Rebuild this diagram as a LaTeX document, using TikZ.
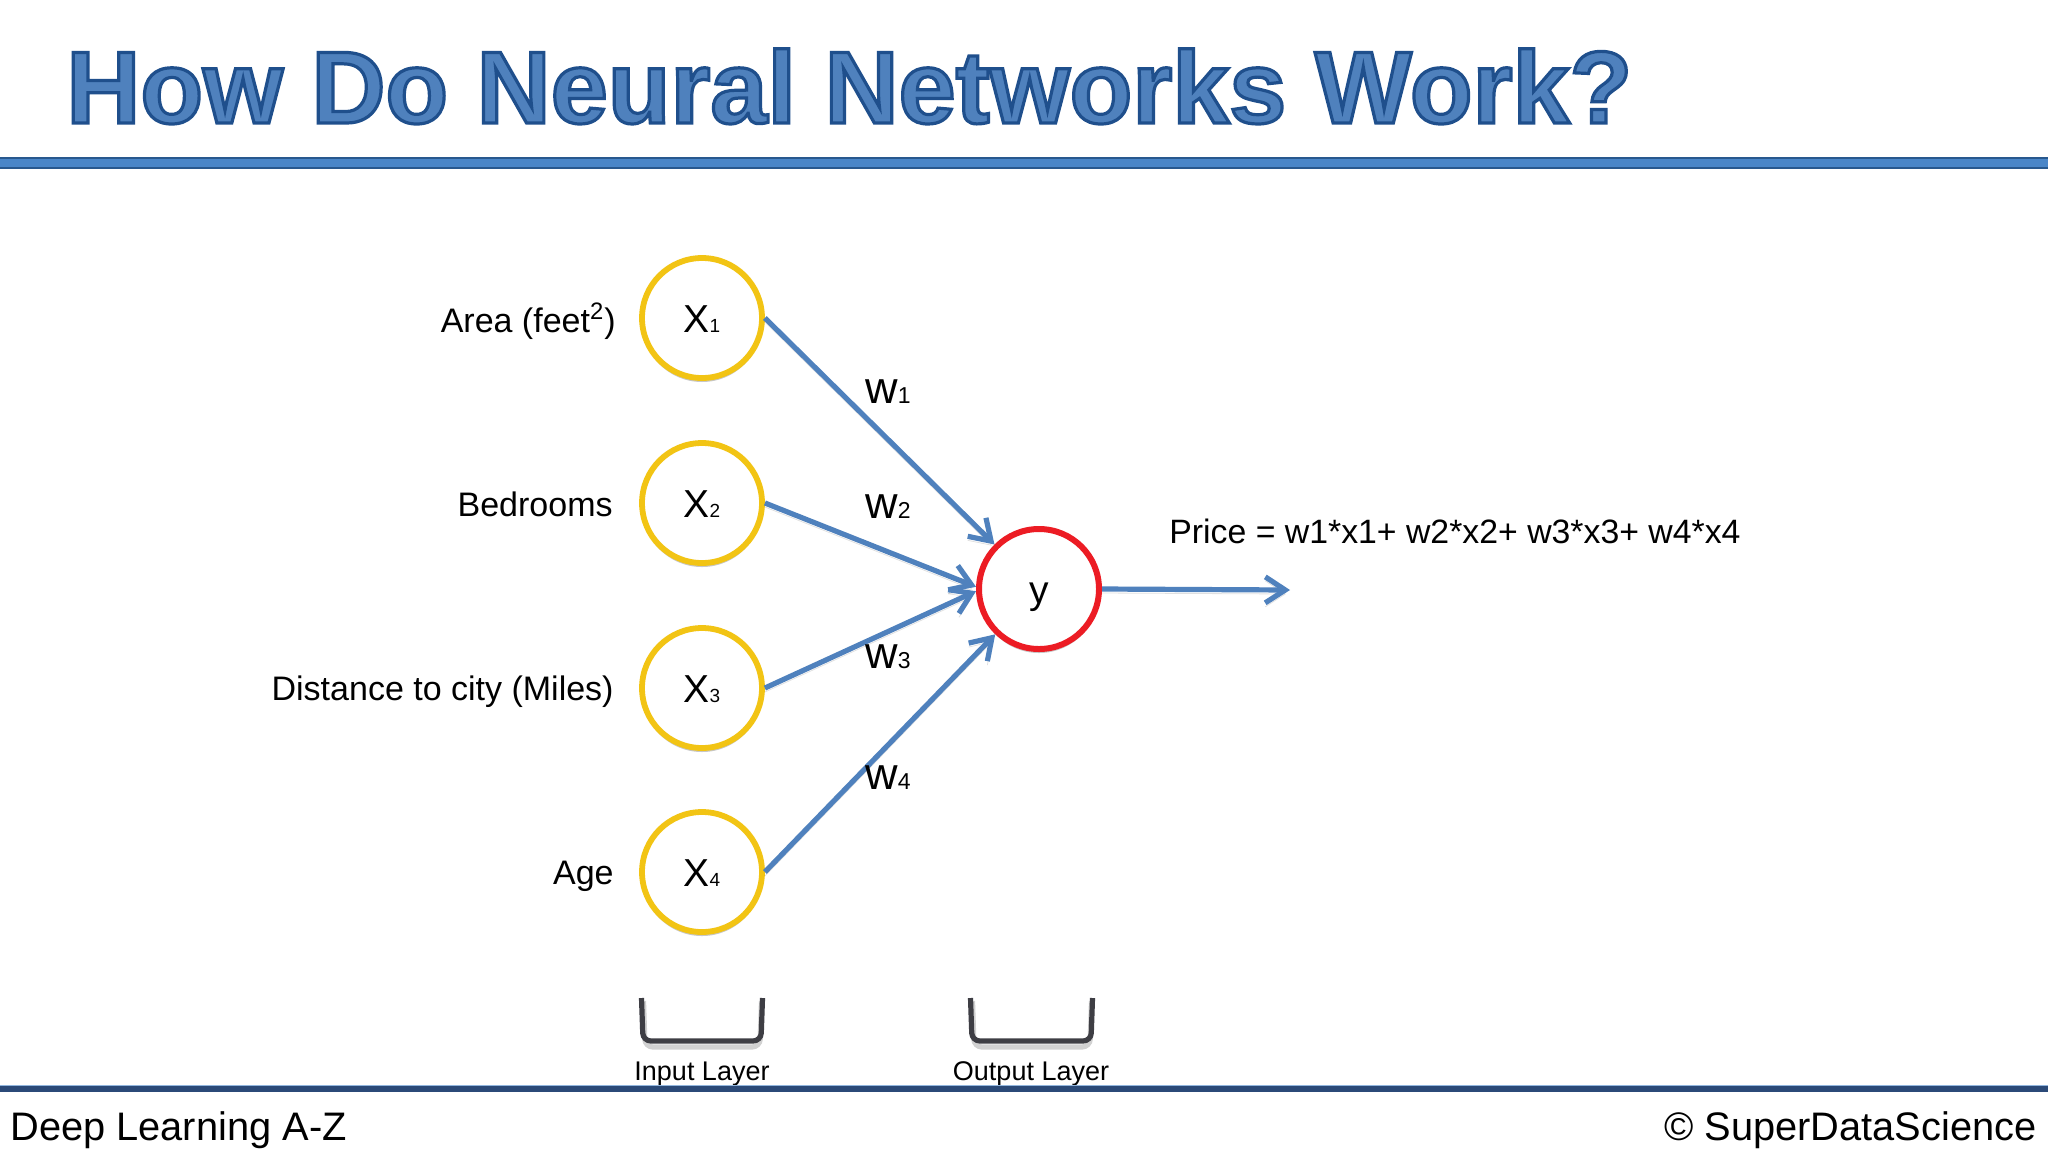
\documentclass[tikz,border=0pt]{standalone}
\usepackage{fontspec}
\setmainfont{Liberation Sans}
\usetikzlibrary{arrows.meta,shadows}
\definecolor{titleblue}{RGB}{79,129,189}
\definecolor{arrowblue}{RGB}{79,129,189}
\definecolor{inyellow}{RGB}{242,196,20}
\definecolor{outred}{RGB}{236,28,36}
\definecolor{bracketgray}{RGB}{62,62,68}
\definecolor{rulefill}{RGB}{74,134,200}
\definecolor{ruleedge}{RGB}{40,88,142}
\definecolor{footrule}{RGB}{43,74,120}
\newcommand\fsz[1]{\fontsize{#1}{#1}\selectfont}
\newcommand\outlined[1]{\special{pdf:code q 2 Tr 0.12 0.31 0.55 RG 1.6 w}#1\special{pdf:code Q}}
\begin{document}
\begin{tikzpicture}[x=0.5pt,y=-0.5pt,
  innode/.style={circle, draw=inyellow, line width=2.9pt, fill=white, minimum size=60pt, inner sep=0pt,
    font=\fsz{19.5}, text height=14pt, text depth=0pt,
    drop shadow={shadow xshift=0pt, shadow yshift=-2pt, opacity=0.22, fill=black}},
  outnode/.style={innode, draw=outred, line width=3pt},
  conn/.style={draw=arrowblue, line width=2.6pt, -{Straight Barb[length=10pt,width=13pt]},
    preaction={draw=black, opacity=0.12, transform canvas={yshift=-2pt}}},
  feat/.style={anchor=base east, font=\fsz{17}, inner sep=0pt},
  wlab/.style={anchor=base west, font=\fsz{22.5}, inner sep=0pt},
  bracketline/.style={draw=bracketgray, line width=2.6pt, rounded corners=4pt},
  bracketshadow/.style={draw=black!18, line width=2.6pt, rounded corners=4pt},
  layerlab/.style={anchor=base, font=\fsz{13.5}, inner sep=0pt}
]
\fill[white] (0,0) rectangle (2048,1152);
\useasboundingbox (0,0) rectangle (2048,1152);

% title
\node[anchor=base west, font=\bfseries\fsz{51.3}, text=titleblue, inner sep=0pt] (title) at (66,123) {\outlined{How Do Neural Networks Work?}};

% top rule
\fill[rulefill] (0,158) rectangle (2048,168);
\draw[ruleedge, line width=1pt] (0,158) -- (2048,158);
\draw[ruleedge, line width=1.3pt] (0,168) -- (2048,168);

% nodes
\node[innode] (x1) at (702,318) {X{\fsz{9.5}1}};
\node[innode] (x2) at (702,503) {X{\fsz{9.5}2}};
\node[innode] (x3) at (702,688) {X{\fsz{9.5}3}};
\node[innode] (x4) at (702,872) {X{\fsz{9.5}4}};
\node[outnode] (y) at (1039,589) {y};

% feature labels
\node[feat] (f1) at (616,332) {Area (feet\textsuperscript{2})};
\node[feat] (f2) at (613,516) {Bedrooms};
\node[feat] (f3) at (614,700) {Distance to city (Miles)};
\node[feat] (f4) at (614,884) {Age};

% connectors
\draw[conn] (x1.east) -- (y.135);
\draw[conn] (x2.east) -- (y.178);
\draw[conn] (x3.east) -- (y.182);
\draw[conn] (x4.east) -- (y.226);
\coordinate (out) at (1290,590);
\draw[conn] (y.east) -- (out);

% weights
\node[wlab] (w1) at (865,403) {w{\fsz{11.5}1}};
\node[wlab] (w2) at (865,518) {w{\fsz{11.5}2}};
\node[wlab] (w3) at (865,668) {w{\fsz{11.5}3}};
\node[wlab] (w4) at (865,789) {w{\fsz{11.5}4}};

% formula
\node[anchor=base west, font=\fsz{16.9}, inner sep=0pt] (price) at (1169,543) {Price = w1*x1+ w2*x2+ w3*x3+ w4*x4};

% brackets
\draw[bracketshadow] (643.5,1001) -- (645,1047) -- (760,1047) -- (761.5,1001);
\draw[bracketline] (641.5,998) -- (643,1041) -- (761,1041) -- (762.5,998);
\draw[bracketshadow] (972.5,1001) -- (974,1047) -- (1090,1047) -- (1091.5,1001);
\draw[bracketline] (970.5,998) -- (972,1041) -- (1091,1041) -- (1092.5,998);
\node[layerlab] (inlab) at (702,1080) {Input Layer};
\node[layerlab] (outlab) at (1031,1080) {Output Layer};

% bottom rule
\fill[footrule] (0,1086) rectangle (2048,1092);
\draw[rulefill!60, line width=0.5pt] (0,1085.5) -- (2048,1085.5);

% footer
\node[anchor=base west, font=\fsz{19.9}, inner sep=0pt] (foot1) at (10,1140) {Deep Learning A-Z};
\node[anchor=base east, font=\fsz{19.9}, inner sep=0pt] (foot2) at (2037,1140) {© SuperDataScience};
\end{tikzpicture}
\end{document}
